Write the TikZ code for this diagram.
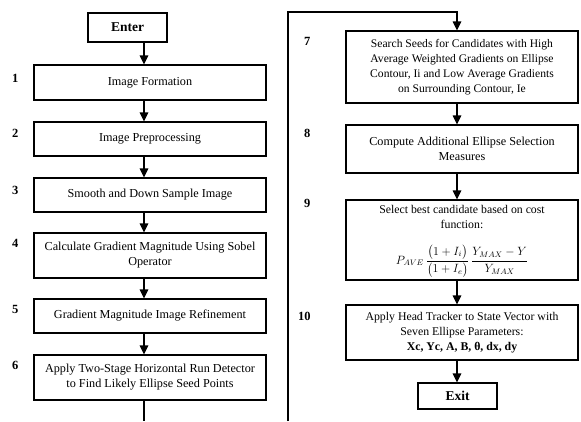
\documentclass[tikz,border=0pt]{standalone}
\usepackage{amsmath}
\usepackage{fontspec}
\setmainfont{Liberation Serif}
\usetikzlibrary{arrows.meta}

\begin{document}
\begin{tikzpicture}[x=1pt,y=-1pt,
  every node/.style={font=\fontsize{12.2}{15}\selectfont, inner sep=0pt},
  stepbox/.style={draw, line width=1.1pt, align=center, minimum width=232pt},
  endbox/.style={draw, line width=1.1pt, minimum width=79pt, font=\fontsize{13.5}{15}\selectfont\bfseries},
  num/.style={font=\fontsize{12.5}{14}\selectfont\bfseries, anchor=west},
  flow/.style={line width=1.1pt, -{Triangle[length=9pt,width=8.5pt]}},
  wire/.style={line width=1.1pt}
]
\useasboundingbox (0,0) rectangle (581,421);

% arrow columns
\coordinate (lx) at (144,0);
\coordinate (rx) at (457,0);

% left column
\node[endbox, minimum height=29pt] (enter) at (127.5,27.5) {Enter};
\node[stepbox, minimum height=35pt] (b1) at (150,82.5) {Image Formation};
\node[stepbox, minimum height=34pt] (b2) at (150,139) {Image Preprocessing};
\node[stepbox, minimum height=34pt] (b3) at (150,195) {Smooth and Down Sample Image};
\node[stepbox, minimum height=45pt] (b4) at (150,255.5) {Calculate Gradient Magnitude Using Sobel\\Operator};
\node[stepbox, minimum height=34pt] (b5) at (150,316) {Gradient Magnitude Image Refinement};
\node[stepbox, minimum height=45pt] (b6) at (150,377.5) {Apply Two-Stage Horizontal Run Detector\\to Find Likely Ellipse Seed Points};

% right column
\node[stepbox, minimum height=72pt, font=\fontsize{11.6}{15}\selectfont] (b7) at (462,67) {Search Seeds for Candidates with High\\Average Weighted Gradients on Ellipse\\Contour, Ii and Low Average Gradients\\on Surrounding Contour, Ie};
\node[stepbox, minimum height=48pt] (b8) at (462,149) {Compute Additional Ellipse Selection\\Measures};
% step 9: frame, caption and cost function set separately
\node[stepbox, minimum height=80pt] (b9) at (462,240) {};
\node[align=center, font=\fontsize{11.8}{14.5}\selectfont] (b9t) at (462,217) {Select best candidate based on cost\\function:};
\node[font=\fontsize{11.8}{14.5}\selectfont] (b9f) at (462,261)
  {$\displaystyle P_{AVE}\,\frac{\bigl(1+I_i\bigr)}{\bigl(1+I_e\bigr)}\,\frac{Y_{MAX}-Y}{Y_{MAX}}$};
\node[stepbox, minimum height=55pt, font=\fontsize{11.8}{15}\selectfont] (b10) at (462,332.5) {Apply Head Tracker to State Vector with\\Seven Ellipse Parameters:\\\textbf{Xc, Yc, A, B, θ, dx, dy}};
\node[endbox, minimum height=26pt] (exit) at (457.5,396) {Exit};

% step numbers
\node[num] (n1) at (12,78) {1};
\node[num] (n2) at (12,133) {2};
\node[num] (n3) at (12,190) {3};
\node[num] (n4) at (12,243) {4};
\node[num] (n5) at (12,309) {5};
\node[num] (n6) at (12,365) {6};
\node[num] (n7) at (304,41) {7};
\node[num] (n8) at (304,133) {8};
\node[num] (n9) at (304,203) {9};
\node[num] (n10) at (298,316) {10};

% connectors, left column
\draw[flow] (enter.south -| lx) -- (b1.north -| lx);
\draw[flow] (b1.south -| lx) -- (b2.north -| lx);
\draw[flow] (b2.south -| lx) -- (b3.north -| lx);
\draw[flow] (b3.south -| lx) -- (b4.north -| lx);
\draw[flow] (b4.south -| lx) -- (b5.north -| lx);
\draw[flow] (b5.south -| lx) -- (b6.north -| lx);
\coordinate (lend) at (144,421);
\draw[wire] (b6.south -| lx) -- (lend);

% continuation into the right column
\coordinate (rstart) at (288,421);
\coordinate (rtop) at (288,12);
\draw[flow] (rstart) -- (rtop) -| (b7.north -| rx);

% connectors, right column
\draw[flow] (b7.south -| rx) -- (b8.north -| rx);
\draw[flow] (b8.south -| rx) -- (b9.north -| rx);
\draw[flow] (b9.south -| rx) -- (b10.north -| rx);
\draw[flow] (b10.south -| rx) -- (exit.north -| rx);
\end{tikzpicture}
\end{document}
